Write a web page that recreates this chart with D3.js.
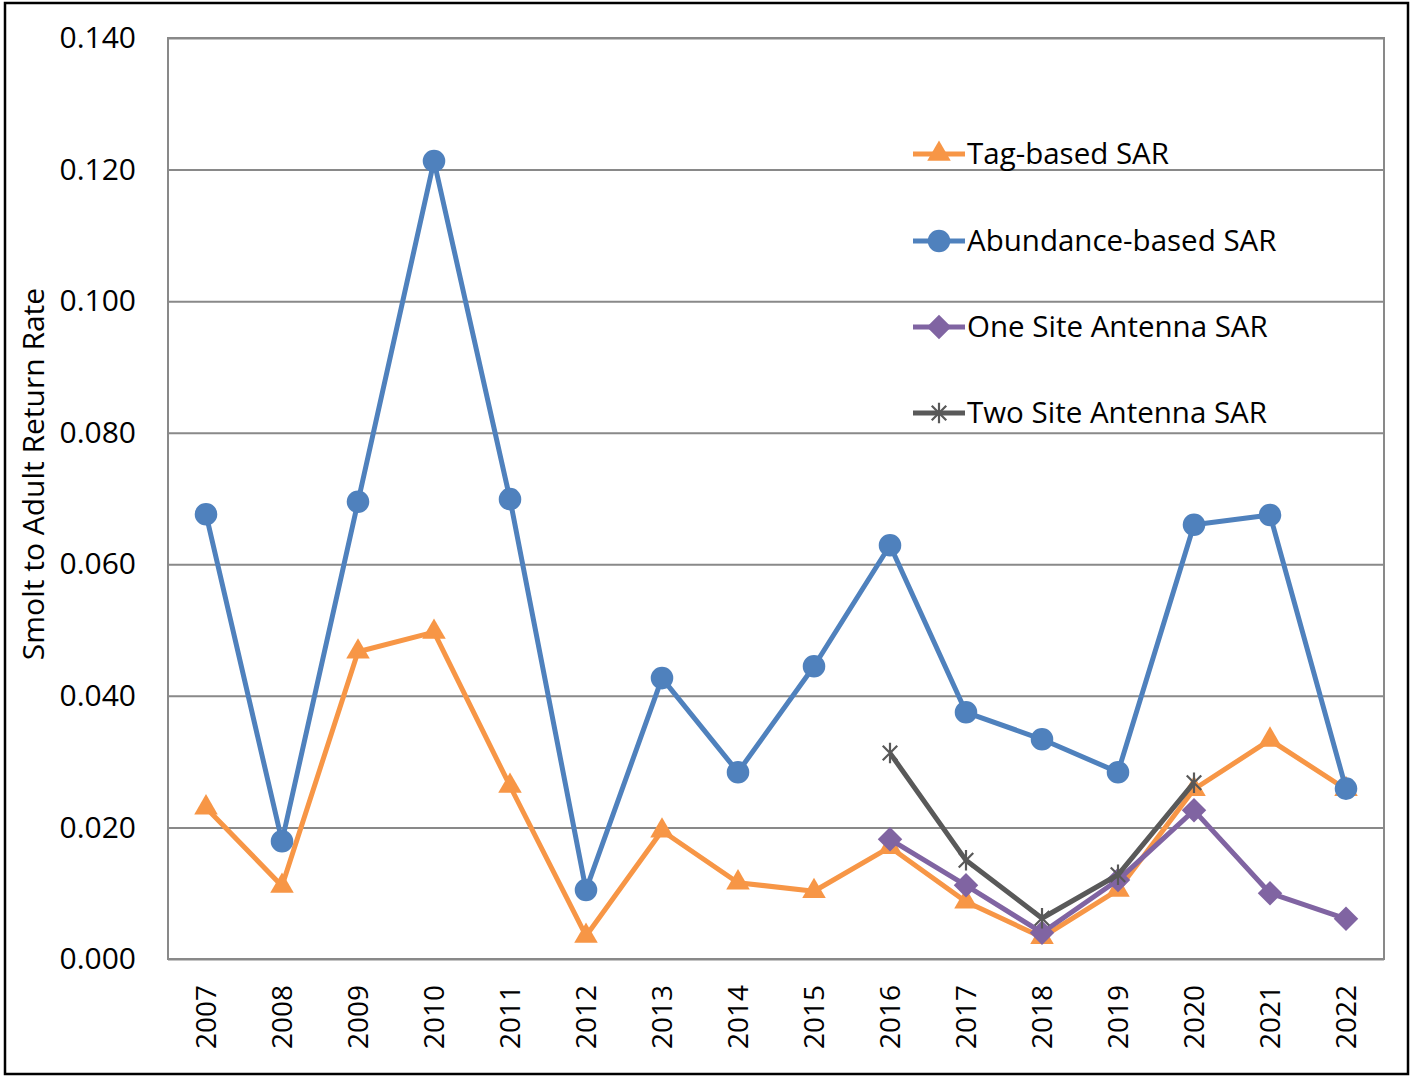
<!DOCTYPE html>
<html>
<head>
<meta charset="utf-8">
<script src="https://cdn.jsdelivr.net/npm/d3@7"></script>
<style>
  body { margin: 0; background: #fff; }
  svg text { font-family: "Open Sans", "Noto Sans", sans-serif; fill: #000; }
</style>
</head>
<body>
<svg id="drawing_region"></svg>
<script>
// chart values
const years = ["2007","2008","2009","2010","2011","2012","2013","2014","2015","2016","2017","2018","2019","2020","2021","2022"];
const tagSAR = [0.0230,0.0111,0.0467,0.0497,0.0263,0.0035,0.0195,0.0116,0.0103,0.0170,0.0087,0.0033,0.0105,0.0258,0.0333,0.0258];
const abundanceSAR = [0.0676,0.0179,0.0695,0.1213,0.0699,0.0105,0.0427,0.0284,0.0445,0.0629,0.0375,0.0334,0.0284,0.0660,0.0675,0.0259];
const oneSiteYears = ["2016","2017","2018","2019","2020","2021","2022"];
const oneSiteSAR = [0.0182,0.0112,0.0040,0.0120,0.0226,0.0100,0.0061];
const twoSiteYears = ["2016","2017","2018","2019","2020"];
const twoSiteSAR = [0.0313,0.0150,0.0062,0.0128,0.0268];
const yTicks = [0, 0.02, 0.04, 0.06, 0.08, 0.10, 0.12, 0.14];

const config = {
    width: 1415,
    height: 1076,
    margin: {top: 38, right: 30, bottom: 117, left: 168}
};

const svg = d3.select('#drawing_region')
    .attr('width', config.width)
    .attr('height', config.height);

// outer frame
svg.append('rect')
    .attr('x', 5).attr('y', 3)
    .attr('width', 1403).attr('height', 1071)
    .attr('fill', 'none')
    .attr('stroke', '#000')
    .attr('stroke-width', 2.5);

const chart = svg.append('g')
    .attr('transform', `translate(${config.margin.left}, ${config.margin.top})`);

const inner_width = 1384 - config.margin.left;
const inner_height = 959 - config.margin.top;

const xscale = d3.scaleBand()
    .domain(years)
    .range([0, inner_width])
    .padding(0);

const yscale = d3.scaleLinear()
    .domain([0, 0.14])
    .range([inner_height, 0]);

const xc = d => xscale(d) + xscale.bandwidth() / 2;

// gridlines
const grid = chart.append('g')
    .call(d3.axisLeft(yscale).tickValues(yTicks).tickSize(-inner_width).tickFormat(''));
grid.select('.domain').remove();
grid.selectAll('line').attr('stroke', '#898989').attr('stroke-width', 2);

// plot border
chart.append('rect')
    .attr('width', inner_width).attr('height', inner_height)
    .attr('fill', 'none')
    .attr('stroke', '#898989')
    .attr('stroke-width', 2);

// y axis labels
const yaxis = chart.append('g')
    .call(d3.axisLeft(yscale).tickValues(yTicks).tickSize(0).tickPadding(32).tickFormat(d3.format('.3f')));
yaxis.select('.domain').remove();
yaxis.selectAll('text')
    .style('font-size', '30px')
    .style('font-family', '"Open Sans", sans-serif')
    .attr('fill', '#000');

// x axis labels (rotated)
const xaxis = chart.append('g')
    .attr('transform', `translate(0, ${inner_height})`)
    .call(d3.axisBottom(xscale).tickSize(0).tickPadding(0));
xaxis.select('.domain').remove();
xaxis.selectAll('text')
    .style('font-size', '28px')
    .style('font-family', '"Open Sans", sans-serif')
    .attr('fill', '#000')
    .attr('text-anchor', 'end')
    .attr('dy', '0.35em')
    .attr('y', 0)
    .attr('transform', 'translate(0, 26) rotate(-90)');

// y axis title
svg.append('text')
    .attr('transform', 'translate(44, 474) rotate(-90)')
    .attr('text-anchor', 'middle')
    .style('font-size', '30px')
    .text('Smolt to Adult Return Rate');

// marker shapes
const diamond = {
    draw(ctx, size) {
        const r = Math.sqrt(size / 2);
        ctx.moveTo(0, -r); ctx.lineTo(r, 0); ctx.lineTo(0, r); ctx.lineTo(-r, 0); ctx.closePath();
    }
};
const star = {
    draw(ctx, size) {
        const r = Math.sqrt(size) / 2;
        const d = r * 0.7071;
        ctx.moveTo(0, -r); ctx.lineTo(0, r);
        ctx.moveTo(-d, -d); ctx.lineTo(d, d);
        ctx.moveTo(-d, d); ctx.lineTo(d, -d);
    }
};

const series = [
    {name: 'Tag-based SAR', x: years, y: tagSAR, color: '#F79646', symbol: d3.symbolTriangle, size: 240, fill: true},
    {name: 'Abundance-based SAR', x: years, y: abundanceSAR, color: '#4F81BD', symbol: d3.symbolCircle, size: 400, fill: true},
    {name: 'One Site Antenna SAR', x: oneSiteYears, y: oneSiteSAR, color: '#8064A2', symbol: diamond, size: 300, fill: true},
    {name: 'Two Site Antenna SAR', x: twoSiteYears, y: twoSiteSAR, color: '#595959', symbol: star, size: 420, fill: false}
];

const line = d3.line()
    .x(d => xc(d[0]))
    .y(d => yscale(d[1]));

function drawMarker(sel, s) {
    sel.attr('d', d3.symbol().type(s.symbol).size(s.size)());
    if (s.fill) {
        sel.attr('fill', s.color).attr('stroke', 'none');
    } else {
        sel.attr('fill', 'none').attr('stroke', s.color).attr('stroke-width', 2.2);
    }
}

series.forEach(s => {
    const pts = s.x.map((x, i) => [x, s.y[i]]);
    chart.append('path')
        .datum(pts)
        .attr('d', line)
        .attr('fill', 'none')
        .attr('stroke', s.color)
        .attr('stroke-width', 5)
        .attr('stroke-linejoin', 'round');
    chart.selectAll(null)
        .data(pts)
        .enter()
        .append('path')
        .attr('transform', d => `translate(${xc(d[0])}, ${yscale(d[1])})`)
        .call(drawMarker, s);
});

// legend
const legend = svg.append('g');
series.forEach((s, i) => {
    const y = [154, 241, 327, 413][i];
    const g = legend.append('g').attr('transform', `translate(913, ${y})`);
    g.append('line')
        .attr('x1', 0).attr('x2', 52)
        .attr('stroke', s.color)
        .attr('stroke-width', 5);
    g.append('path')
        .attr('transform', 'translate(26, 0)')
        .call(drawMarker, s);
    g.append('text')
        .attr('x', 54)
        .attr('dy', '0.35em')
        .style('font-size', '29.5px')
        .text(s.name);
});
</script>
</body>
</html>
